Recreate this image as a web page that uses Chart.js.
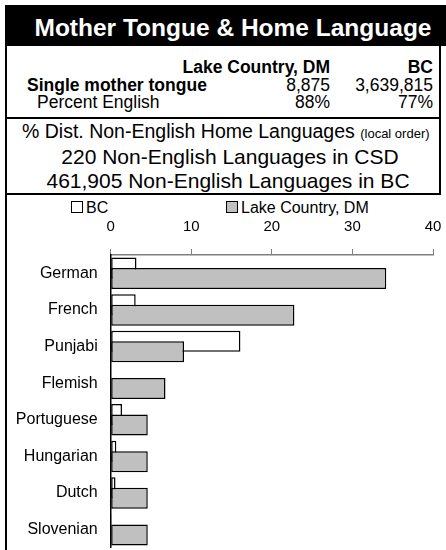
<!DOCTYPE html>
<html>
<head>
<meta charset="utf-8">
<script src="https://cdn.jsdelivr.net/npm/chart.js@4/dist/chart.umd.min.js"></script>
<style>
body { margin: 0; width: 446px; height: 550px; overflow: hidden; background: #fff; position: relative;
       font-family: "Liberation Sans", Arial, sans-serif; color: #000; }
.t { position: absolute; white-space: nowrap; line-height: 1; }
.r { text-align: right; }
.ln { position: absolute; background: #000; }
#title { position: absolute; left: 5px; top: 5px; width: 441px; height: 41px; overflow: hidden; background: #000; color: #fff;
         font-weight: bold; font-size: 24.5px; line-height: 46px; text-align: center; padding-left: 15px; box-sizing: border-box; }
.legend-item { position: absolute; font-size: 16px; line-height: 16px; white-space: nowrap; }
.legend-item span { display: inline-block; width: 10px; height: 10px; border: 1px solid #000; margin-right: 3px; vertical-align: 0px; }
#chartBox { position: absolute; left: 0; top: 215px; width: 442px; height: 333px; }
</style>
</head>
<body>
<div id="title">Mother Tongue &amp; Home Language</div>

<div class="ln" style="left:5px;top:46px;width:2px;height:504px"></div>
<div class="ln" style="left:439px;top:46px;width:2px;height:149px"></div>
<div class="ln" style="left:5px;top:117px;width:436px;height:2px"></div>
<div class="ln" style="left:5px;top:193px;width:436px;height:2px"></div>

<div class="t r" id="area1" style="right:116px;top:59px;font-size:17.5px;font-weight:bold"></div>
<div class="t r" id="area2" style="right:13px;top:59px;font-size:17.5px;font-weight:bold"></div>
<div class="t" style="left:27px;top:77px;font-size:17.5px;font-weight:bold">Single mother tongue</div>
<div class="t r" id="mt1" style="right:116px;top:77px;font-size:17.5px"></div>
<div class="t r" id="mt2" style="right:13px;top:77px;font-size:17.5px"></div>
<div class="t" style="left:37px;top:94px;font-size:17.5px">Percent English</div>
<div class="t r" id="pe1" style="right:116px;top:94px;font-size:17.5px"></div>
<div class="t r" id="pe2" style="right:13px;top:94px;font-size:17.5px"></div>

<div class="t" style="left:22px;top:122px;font-size:19.5px">% Dist. Non-English Home Languages <span style="font-size:13px">(local order)</span></div>
<div class="t" id="csdLine" style="left:0;width:460px;text-align:center;top:146px;font-size:21px"></div>
<div class="t" id="bcLine" style="left:0;width:456px;text-align:center;top:170px;font-size:21px"></div>

<div class="legend-item" id="leg0" style="left:71px;top:200px"></div>
<div class="legend-item" id="leg1" style="left:226px;top:200px"></div>

<div id="chartBox"><canvas id="myChart"></canvas></div>

<script>
// header table
const areaNames = ['Lake Country, DM', 'BC'];
const motherTongue = ['8,875', '3,639,815'];
const percentEnglish = ['88%', '77%'];
const nonEnglishCounts = ['220', '461,905'];

// chart data (% of non-English home languages)
const languages = ['German', 'French', 'Punjabi', 'Flemish', 'Portuguese', 'Hungarian', 'Dutch', 'Slovenian'];
const bcValues = [3.2, 3.1, 16.1, 0, 1.4, 0.7, 0.6, 0.1];
const localValues = [34.2, 22.8, 9.1, 6.8, 4.6, 4.6, 4.6, 4.6];
const seriesNames = ['BC', 'Lake Country, DM'];
const seriesColors = ['#ffffff', '#c0c0c0'];

document.getElementById('area1').textContent = areaNames[0];
document.getElementById('area2').textContent = areaNames[1];
document.getElementById('mt1').textContent = motherTongue[0];
document.getElementById('mt2').textContent = motherTongue[1];
document.getElementById('pe1').textContent = percentEnglish[0];
document.getElementById('pe2').textContent = percentEnglish[1];
document.getElementById('csdLine').textContent = nonEnglishCounts[0] + ' Non-English Languages in CSD';
document.getElementById('bcLine').textContent = nonEnglishCounts[1] + ' Non-English Languages in BC';

seriesNames.forEach((name, i) => {
    let item = document.getElementById('leg' + i);
    let box = document.createElement('span');
    box.style.background = seriesColors[i];
    item.append(box);
    item.append(name);
});

// BC bars sit behind the local bars, so draw BC first
const drawOrder = {
    id: 'drawOrder',
    beforeDatasetsDraw(chart) {
        chart.getDatasetMeta(0).controller.draw();
    },
    beforeDatasetDraw(chart, args) {
        if (args.index === 0) {
            return false;
        }
    }
};

const data = {
    labels: languages,
    datasets: [
        {
            label: seriesNames[0],
            data: bcValues,
            backgroundColor: seriesColors[0],
            borderColor: '#000',
            borderWidth: 1.5,
            borderSkipped: false
        },
        {
            label: seriesNames[1],
            data: localValues,
            backgroundColor: seriesColors[1],
            borderColor: '#000',
            borderWidth: 1.5,
            borderSkipped: false
        }
    ]
};

const config = {
    type: 'bar',
    data: data,
    options: {
        indexAxis: 'y',
        responsive: true,
        maintainAspectRatio: false,
        animation: false,
        categoryPercentage: 0.5734,
        barPercentage: 2,
        layout: { padding: { right: 9, left: 0, top: 0, bottom: 0 } },
        plugins: {
            legend: { display: false },
            tooltip: { enabled: false }
        },
        scales: {
            x: {
                position: 'top',
                min: 0,
                max: 40,
                ticks: {
                    stepSize: 10,
                    color: '#000',
                    padding: 13,
                    font: { family: '"Liberation Sans", Arial, sans-serif', size: 15 }
                },
                grid: { drawOnChartArea: false, tickLength: 6, color: '#808080', lineWidth: 1 },
                border: { color: '#808080', width: 1.5 },
                afterFit: function (scale) {
                    scale.height = 40;
                    scale.paddingLeft = 0;
                    scale.paddingRight = 0;
                }
            },
            y: {
                ticks: {
                    color: '#000',
                    padding: 13,
                    font: { family: '"Liberation Sans", Arial, sans-serif', size: 16 }
                },
                grid: { display: false, drawTicks: false },
                border: { color: '#000', width: 1.5 },
                afterFit: function (scale) {
                    scale.width = 110.7;
                    scale.paddingTop = 0;
                    scale.paddingBottom = 0;
                }
            }
        }
    },
    plugins: [drawOrder]
};

let myChart = new Chart(document.getElementById('myChart'), config);
</script>
</body>
</html>
